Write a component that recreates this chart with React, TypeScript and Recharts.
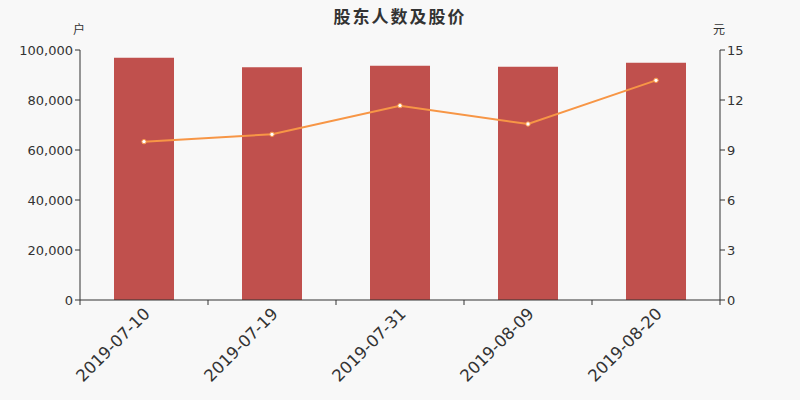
import React from "react";
import { ComposedChart, Bar, Line, XAxis, YAxis } from "recharts";

const dates = ["2019-07-10", "2019-07-19", "2019-07-31", "2019-08-09", "2019-08-20"];
const holders = [96900, 93100, 93700, 93300, 94900];
const prices = [9.5, 9.94, 11.66, 10.56, 13.18];
const leftTicks = [0, 20000, 40000, 60000, 80000, 100000];
const rightTicks = [0, 3, 6, 9, 12, 15];

const data = dates.map((d, i) => ({ date: d, holders: holders[i], price: prices[i] }));

const FONT = "'DejaVu Sans', 'Noto Sans CJK SC', sans-serif";
const AXIS = "#333";

const XTick = (props: any) => {
  const { x, y, payload, width, visibleTicksCount, index } = props;
  const half = width / visibleTicksCount / 2;
  return (
    <g>
      <line x1={x - half} y1={y - 8} x2={x - half} y2={y - 3} stroke={AXIS} />
      {index === visibleTicksCount - 1 && (
        <line x1={x + half} y1={y - 8} x2={x + half} y2={y - 3} stroke={AXIS} />
      )}
      <text
        x={x + 3}
        y={y + 3}
        textAnchor="end"
        fontSize={16.5}
        fill={AXIS}
        fontFamily={FONT}
        transform={`rotate(-45, ${x + 3}, ${y + 3})`}
        dominantBaseline="central"
      >
        {payload.value}
      </text>
    </g>
  );
};

export default function App() {
  return (
    <div style={{ position: "fixed", left: 0, top: 0, width: 800, height: 400, background: "#f8f8f8", fontFamily: FONT }}>
      <div style={{ position: "absolute", left: 0, top: 3, width: 800, textAlign: "center", fontSize: 17, fontWeight: "bold", color: "#333", letterSpacing: 2 }}>
        股东人数及股价
      </div>
      <div style={{ position: "absolute", left: 73, top: 20, fontSize: 12, color: "#333" }}>户</div>
      <div style={{ position: "absolute", left: 713, top: 20, fontSize: 12, color: "#333" }}>元</div>
      <ComposedChart width={800} height={400} data={data} margin={{ top: 50, right: 0, left: 0, bottom: 0 }}>
        <XAxis
          dataKey="date"
          height={100}
          tickLine={false}
          axisLine={{ stroke: AXIS }}
          tick={<XTick />}
          interval={0}
        />
        <YAxis
          yAxisId="left"
          width={80}
          domain={[0, 100000]}
          ticks={leftTicks}
          tickFormatter={(v: number) => v.toLocaleString("en-US")}
          axisLine={{ stroke: AXIS }}
          tickLine={{ stroke: AXIS }}
          tickSize={5}
          tick={{ fill: AXIS, fontSize: 13, fontFamily: FONT }}
        />
        <YAxis
          yAxisId="right"
          orientation="right"
          width={80}
          domain={[0, 15]}
          ticks={rightTicks}
          axisLine={{ stroke: AXIS }}
          tickLine={{ stroke: AXIS }}
          tickSize={5}
          tick={{ fill: AXIS, fontSize: 13, fontFamily: FONT }}
        />
        <Bar yAxisId="left" dataKey="holders" fill="#c0504d" barSize={60} isAnimationActive={false} />
        <Line
          yAxisId="right"
          dataKey="price"
          stroke="#f79646"
          strokeWidth={2}
          type="linear"
          dot={{ r: 2.2, fill: "#fff", stroke: "#f79646", strokeWidth: 1 }}
          activeDot={false}
          isAnimationActive={false}
        />
      </ComposedChart>
    </div>
  );
}
